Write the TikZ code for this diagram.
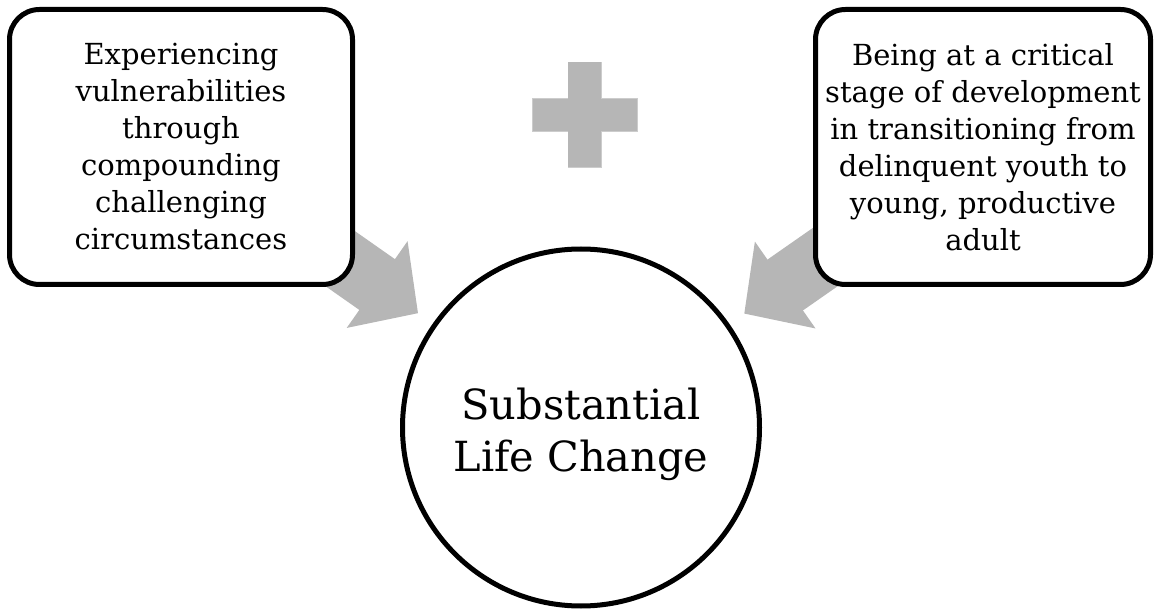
\documentclass[tikz,border=0pt]{standalone}
\usepackage{fontspec}
\setmainfont{DejaVu Serif}
\usetikzlibrary{arrows.meta,backgrounds}

\definecolor{arrowgray}{RGB}{182,182,182}

\tikzset{
  factorbox/.style={draw, line width=5pt, rounded corners=30pt, fill=white,
    align=center, inner sep=0pt, minimum height=275pt,
    font=\fontsize{29}{37}\selectfont},
  outcome/.style={draw, circle, line width=5pt, fill=white,
    inner sep=0pt, minimum size=357pt},
  outcometext/.style={align=center, yshift=-7pt,
    font=\fontsize{41.5}{52}\selectfont},
  plusbar/.style={fill=arrowgray, draw=arrowgray!70!white, line width=0.8pt,
    inner sep=0pt},
  bigarrow/.style={draw=arrowgray, line width=62pt,
    -{Triangle[length=50pt,width=103pt]}, shorten >=18pt},
}

\begin{document}
\begin{tikzpicture}[
      x = 1pt,
      y = 1pt,
  ]

  \useasboundingbox (0,0) rectangle (1157,611);

  \node[factorbox, minimum width=343pt] (vuln) at (181,464)
    {Experiencing\\vulnerabilities\\through\\compounding\\challenging\\circumstances};
  \node[factorbox, minimum width=335pt] (stage) at (983,464)
    {Being at a critical\\stage of development\\in transitioning from\\delinquent youth to\\young, productive\\adult};

  \node[outcome, label={[outcometext]center:Substantial\\Life Change}] (change)
    at (581,183.5) {};

  % plus sign
  \node[plusbar, minimum width=33pt, minimum height=105pt] (plusv) at (584.5,496.5) {};
  \node[plusbar, minimum width=105pt, minimum height=33pt] (plush) at (plusv) {};
  \fill[arrowgray] (plusv.north west) rectangle (plusv.south east);

  % block arrows behind the boxes
  \begin{scope}[on background layer]
    \draw[bigarrow] (vuln.center) -- (change);
    \draw[bigarrow] (stage.center) -- (change);
  \end{scope}

  \end{tikzpicture}
\end{document}
